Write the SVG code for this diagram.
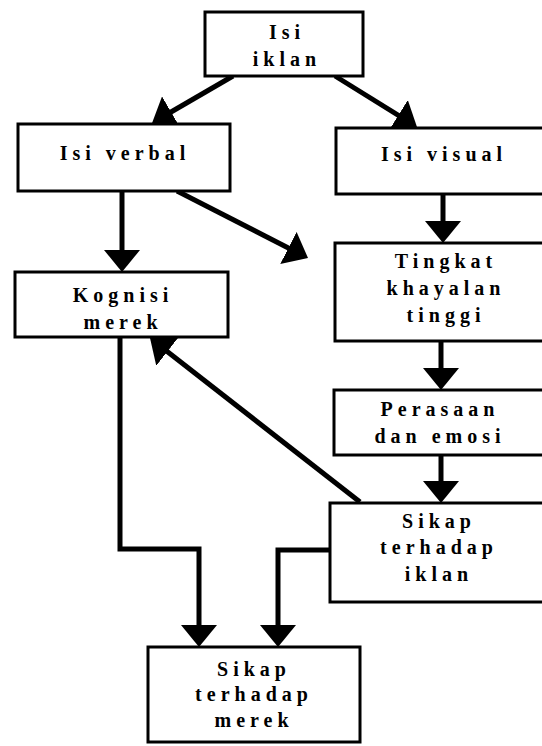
<svg xmlns="http://www.w3.org/2000/svg" width="542" height="746" viewBox="0 0 542 746">
<style>
.box{fill:#fff;stroke:#000;stroke-width:3}
.t{font-family:"Liberation Serif","Times New Roman",serif;font-weight:bold;font-size:20px;letter-spacing:5px;text-anchor:middle;fill:#000}
.c{fill:none;stroke:#000;stroke-width:5;stroke-linejoin:miter}
</style>
<defs>
<marker id="ah" viewBox="0 0 22 36" markerWidth="22" markerHeight="36" refX="12" refY="18" orient="auto" markerUnits="userSpaceOnUse">
<path d="M0,0 L22,18 L0,36 z" fill="#000"/>
</marker>
</defs>
<rect width="542" height="746" fill="#fff"/>
<g id="connectors">
<path class="c" d="M233,76 L160.7,118" marker-end="url(#ah)"/>
<path class="c" d="M335,76 L408.5,121.7" marker-end="url(#ah)"/>
<path class="c" d="M122,191 V262" marker-end="url(#ah)"/>
<path class="c" d="M177,191 L299.1,253.4" marker-end="url(#ah)"/>
<path class="c" d="M443,194 V233" marker-end="url(#ah)"/>
<path class="c" d="M441,341 V380" marker-end="url(#ah)"/>
<path class="c" d="M441,455 V493" marker-end="url(#ah)"/>
<path class="c" d="M360,502 L157.9,344.2" marker-end="url(#ah)"/>
<path class="c" d="M120,337 V549 H199 V637" marker-end="url(#ah)"/>
<path class="c" d="M330,550 H278 V637" marker-end="url(#ah)"/>
</g>
<g id="isi-iklan">
<rect class="box" x="205" y="12" width="158" height="64"/>
<text class="t" x="287" y="39">Isi</text>
<text class="t" x="287" y="66">iklan</text>
</g>
<g id="isi-verbal">
<rect class="box" x="18" y="124" width="212" height="67"/>
<text class="t" x="125" y="160">Isi verbal</text>
</g>
<g id="isi-visual">
<rect class="box" x="336" y="128" width="212" height="66"/>
<text class="t" x="444" y="161">Isi visual</text>
</g>
<g id="kognisi-merek">
<rect class="box" x="15" y="272" width="213" height="65"/>
<text class="t" x="123" y="302">Kognisi</text>
<text class="t" x="123" y="329">merek</text>
</g>
<g id="tingkat-khayalan">
<rect class="box" x="335" y="243" width="213" height="98"/>
<text class="t" x="446" y="268">Tingkat</text>
<text class="t" x="446" y="295">khayalan</text>
<text class="t" x="446" y="322">tinggi</text>
</g>
<g id="perasaan-emosi">
<rect class="box" x="334" y="390" width="214" height="65"/>
<text class="t" x="440" y="416">Perasaan</text>
<text class="t" x="440" y="443">dan emosi</text>
</g>
<g id="sikap-iklan">
<rect class="box" x="330" y="503" width="218" height="99"/>
<text class="t" x="439" y="528">Sikap</text>
<text class="t" x="439" y="554">terhadap</text>
<text class="t" x="439" y="581">iklan</text>
</g>
<g id="sikap-merek">
<rect class="box" x="148" y="647" width="212" height="95"/>
<text class="t" x="254" y="676">Sikap</text>
<text class="t" x="254" y="701">terhadap</text>
<text class="t" x="254" y="727">merek</text>
</g>
</svg>
